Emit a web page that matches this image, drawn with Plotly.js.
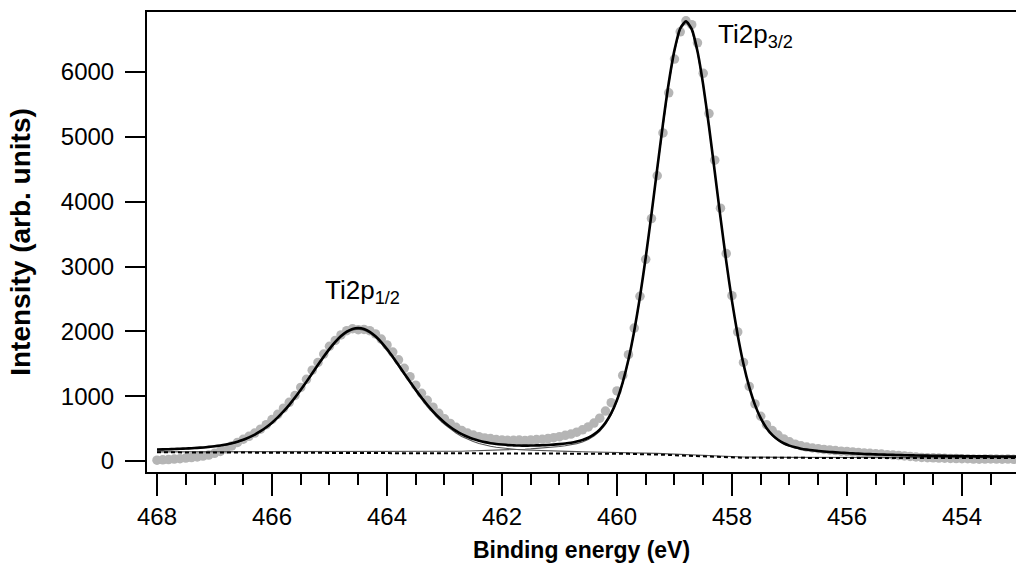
<!DOCTYPE html>
<html>
<head>
<meta charset="utf-8">
<script src="https://cdn.plot.ly/plotly-3.0.1.min.js"></script>
<style>
  html, body { margin: 0; padding: 0; background: #fff; overflow: hidden; }
  #chart { width: 1016px; height: 563px; }
</style>
</head>
<body>
<div id="chart"></div>
<script>
// Ti 2p core-level spectrum: measured counts, fitted envelope, doublet components, Shirley background
const bindingEnergy = [
  468.0, 467.9, 467.8, 467.7, 467.6, 467.5, 467.4, 467.3, 467.2, 467.1,
  467.0, 466.9, 466.8, 466.7, 466.6, 466.5, 466.4, 466.3, 466.2, 466.1,
  466.0, 465.9, 465.8, 465.7, 465.6, 465.5, 465.4, 465.3, 465.2, 465.1,
  465.0, 464.9, 464.8, 464.7, 464.6, 464.5, 464.4, 464.3, 464.2, 464.1,
  464.0, 463.9, 463.8, 463.7, 463.6, 463.5, 463.4, 463.3, 463.2, 463.1,
  463.0, 462.9, 462.8, 462.7, 462.6, 462.5, 462.4, 462.3, 462.2, 462.1,
  462.0, 461.9, 461.8, 461.7, 461.6, 461.5, 461.4, 461.3, 461.2, 461.1,
  461.0, 460.9, 460.8, 460.7, 460.6, 460.5, 460.4, 460.3, 460.2, 460.1,
  460.0, 459.9, 459.8, 459.7, 459.6, 459.5, 459.4, 459.3, 459.2, 459.1,
  459.0, 458.9, 458.8, 458.7, 458.6, 458.5, 458.4, 458.3, 458.2, 458.1,
  458.0, 457.9, 457.8, 457.7, 457.6, 457.5, 457.4, 457.3, 457.2, 457.1,
  457.0, 456.9, 456.8, 456.7, 456.6, 456.5, 456.4, 456.3, 456.2, 456.1,
  456.0, 455.9, 455.8, 455.7, 455.6, 455.5, 455.4, 455.3, 455.2, 455.1,
  455.0, 454.9, 454.8, 454.7, 454.6, 454.5, 454.4, 454.3, 454.2, 454.1,
  454.0, 453.9, 453.8, 453.7, 453.6, 453.5, 453.4, 453.3, 453.2, 453.1,
  453.0
];

const measuredCounts = [
  12, 18, 22, 30, 36, 45, 52, 63, 75, 92,
  118, 148, 186, 232, 286, 335, 380, 430, 490, 560,
  640, 720, 815, 905, 1010, 1135, 1260, 1400, 1520, 1650,
  1770, 1860, 1945, 2010, 2040, 2025, 2030, 2010, 1960, 1880,
  1790, 1680, 1560, 1430, 1300, 1170, 1045, 935, 830, 735,
  650, 580, 520, 470, 430, 400, 375, 355, 345, 330,
  325, 320, 318, 322, 315, 325, 330, 335, 345, 360,
  375, 395, 415, 445, 480, 525, 585, 660, 770, 900,
  1080, 1320, 1640, 2050, 2540, 3110, 3740, 4400, 5060, 5680,
  6200, 6620, 6790, 6730, 6450, 5980, 5360, 4640, 3900, 3200,
  2550, 1990, 1520, 1150, 880, 690, 560, 470, 400, 340,
  295, 260, 235, 215, 200, 190, 178, 170, 160, 152,
  148, 140, 132, 125, 118, 112, 106, 98, 92, 85,
  78, 70, 62, 55, 50, 48, 45, 42, 40, 38,
  35, 35, 30, 28, 30, 32, 30, 28, 30, 25,
  25
];

const fitEnvelope = [
  177, 179, 182, 185, 189, 193, 197, 202, 209, 217,
  227, 240, 254, 274, 298, 327, 364, 407, 459, 520,
  591, 672, 764, 866, 978, 1098, 1224, 1353, 1483, 1610,
  1729, 1836, 1927, 1995, 2037, 2051, 2036, 1993, 1925, 1835,
  1727, 1607, 1481, 1351, 1223, 1097, 978, 867, 766, 675,
  595, 525, 465, 415, 374, 340, 313, 291, 274, 262,
  253, 245, 241, 238, 237, 238, 240, 243, 247, 252,
  260, 269, 281, 299, 323, 358, 410, 484, 589, 737,
  941, 1214, 1565, 2005, 2531, 3139, 3809, 4510, 5201, 5830,
  6338, 6672, 6784, 6662, 6319, 5800, 5164, 4465, 3758, 3082,
  2469, 1939, 1496, 1142, 866, 661, 510, 403, 327, 273,
  237, 211, 190, 176, 165, 154, 146, 139, 133, 127,
  122, 118, 113, 108, 105, 102, 99, 96, 94, 92,
  89, 87, 85, 83, 82, 81, 80, 78, 77, 76,
  75, 73, 72, 71, 71, 70, 69, 68, 68, 67,
  67
];

// 2p1/2 component on top of the background
const componentP12 = [
  170, 172, 175, 178, 181, 185, 189, 194, 201, 209,
  219, 231, 245, 265, 289, 318, 354, 397, 449, 510,
  581, 661, 753, 855, 966, 1086, 1211, 1340, 1469, 1596,
  1714, 1821, 1911, 1979, 2020, 2034, 2018, 1975, 1906, 1815,
  1706, 1586, 1459, 1328, 1199, 1072, 952, 840, 737, 645,
  564, 493, 431, 379, 336, 300, 271, 247, 227, 212,
  200, 189, 181, 174, 169, 165, 161, 158, 155, 152,
  150, 148, 146, 144, 142, 141, 140, 139, 137, 135,
  134, 133, 131, 129, 127, 124, 121, 118, 114, 110,
  104, 100, 94, 90, 85, 80, 77, 73, 70, 67,
  65, 63, 62, 61, 59, 59, 58, 58, 57, 56,
  56, 56, 55, 55, 55, 54, 54, 54, 54, 54,
  54, 54, 53, 52, 52, 52, 52, 52, 52, 52,
  51, 51, 51, 51, 51, 51, 51, 51, 51, 51,
  51, 50, 50, 50, 50, 50, 50, 50, 50, 50,
  50
];

// 2p3/2 component on top of the background
const componentP32 = [
  141, 141, 141, 141, 142, 142, 142, 142, 142, 142,
  142, 143, 142, 142, 142, 142, 143, 143, 143, 143,
  143, 143, 143, 143, 143, 143, 143, 143, 143, 143,
  143, 142, 143, 142, 142, 141, 141, 140, 141, 141,
  141, 140, 141, 141, 142, 142, 143, 144, 145, 146,
  147, 148, 149, 151, 153, 155, 157, 159, 162, 165,
  168, 170, 174, 178, 182, 187, 193, 199, 206, 214,
  224, 235, 248, 268, 294, 330, 383, 458, 565, 714,
  919, 1192, 1544, 1985, 2512, 3121, 3791, 4493, 5184, 5814,
  6323, 6657, 6770, 6648, 6305, 5787, 5151, 4452, 3746, 3070,
  2457, 1928, 1485, 1131, 856, 651, 500, 393, 318, 264,
  228, 202, 182, 168, 157, 147, 139, 132, 126, 120,
  115, 111, 107, 102, 99, 96, 93, 90, 88, 86,
  84, 82, 80, 78, 77, 76, 75, 73, 72, 71,
  70, 69, 68, 67, 67, 66, 65, 64, 64, 63,
  63
];

const shirleyBackground = [
  134, 134, 134, 134, 134, 134, 134, 134, 134, 134,
  134, 134, 133, 133, 133, 133, 133, 133, 133, 133,
  133, 132, 132, 132, 131, 131, 130, 130, 129, 129,
  128, 127, 127, 126, 125, 124, 123, 122, 122, 121,
  120, 119, 119, 118, 118, 117, 117, 117, 116, 116,
  116, 116, 115, 115, 115, 115, 115, 115, 115, 115,
  115, 114, 114, 114, 114, 114, 114, 114, 114, 114,
  114, 114, 113, 113, 113, 113, 113, 113, 113, 112,
  112, 111, 110, 109, 108, 106, 103, 101, 97, 94,
  89, 85, 80, 76, 71, 67, 64, 60, 58, 55,
  53, 52, 51, 50, 49, 49, 48, 48, 48, 47,
  47, 47, 47, 47, 47, 47, 47, 47, 47, 47,
  47, 47, 47, 46, 46, 46, 46, 46, 46, 46,
  46, 46, 46, 46, 46, 46, 46, 46, 46, 46,
  46, 46, 46, 46, 46, 46, 46, 46, 46, 46,
  46
];

const peakLabels = ['Ti2p<sub>3/2</sub>', 'Ti2p<sub>1/2</sub>'];
const peakLabelX = [458.27, 465.12];
const peakLabelY = [6570, 2610];

const FONT = 'Liberation Sans, Arial, Helvetica, sans-serif';

const traces = [
  {
    x: bindingEnergy, y: measuredCounts, type: 'scatter', mode: 'markers',
    marker: { size: 9.5, color: '#b5b5b5', line: { width: 0 } },
    hoverinfo: 'skip'
  },
  {
    x: bindingEnergy, y: componentP12, type: 'scatter', mode: 'lines',
    line: { color: '#555555', width: 1.1 }
  },
  {
    x: bindingEnergy, y: componentP32, type: 'scatter', mode: 'lines',
    line: { color: '#555555', width: 1.1 }
  },
  {
    x: bindingEnergy, y: shirleyBackground, type: 'scatter', mode: 'lines',
    line: { color: '#000000', width: 2, dash: '4px,3px' }
  },
  {
    x: bindingEnergy, y: fitEnvelope, type: 'scatter', mode: 'lines',
    line: { color: '#000000', width: 2.6, shape: 'spline', smoothing: 0.6 }
  }
];

const annotations = peakLabels.map((t, i) => ({
  x: peakLabelX[i], y: peakLabelY[i], xref: 'x', yref: 'y',
  text: t, showarrow: false, xanchor: 'left', yanchor: 'middle',
  font: { family: FONT, size: 26, color: '#000' }
}));

const layout = {
  width: 1016, height: 563,
  margin: { l: 147, r: 0, t: 12, b: 91 },
  paper_bgcolor: '#ffffff', plot_bgcolor: '#ffffff',
  showlegend: false,
  font: { family: FONT, color: '#000', size: 24 },
  xaxis: {
    range: [468.174, 453.06],
    tickmode: 'linear', tick0: 454, dtick: 2,
    ticks: 'outside', ticklen: 22, tickwidth: 2, tickcolor: '#000',
    minor: { tick0: 454, dtick: 0.5, ticks: 'outside', ticklen: 11, tickwidth: 2, tickcolor: '#000', showgrid: false },
    showline: true, linewidth: 2, linecolor: '#000', mirror: true,
    showgrid: false, zeroline: false,
    tickfont: { family: FONT, size: 24 },
    title: { text: '<b>Binding energy (eV)</b>', font: { family: FONT, size: 23 }, standoff: 14 }
  },
  yaxis: {
    range: [-170, 6926],
    tickmode: 'linear', tick0: 0, dtick: 1000,
    ticks: 'outside', ticklen: 20, tickwidth: 2, tickcolor: '#000',
    showline: true, linewidth: 2, linecolor: '#000', mirror: false,
    showgrid: false, zeroline: false,
    ticklabelstandoff: 6,
    tickfont: { family: FONT, size: 24 },
    title: { text: '<b>Intensity (arb. units)</b>', font: { family: FONT, size: 28 }, standoff: 22 }
  },
  annotations: annotations
};

Plotly.newPlot('chart', traces, layout, { displayModeBar: false, staticPlot: true });
</script>
</body>
</html>
